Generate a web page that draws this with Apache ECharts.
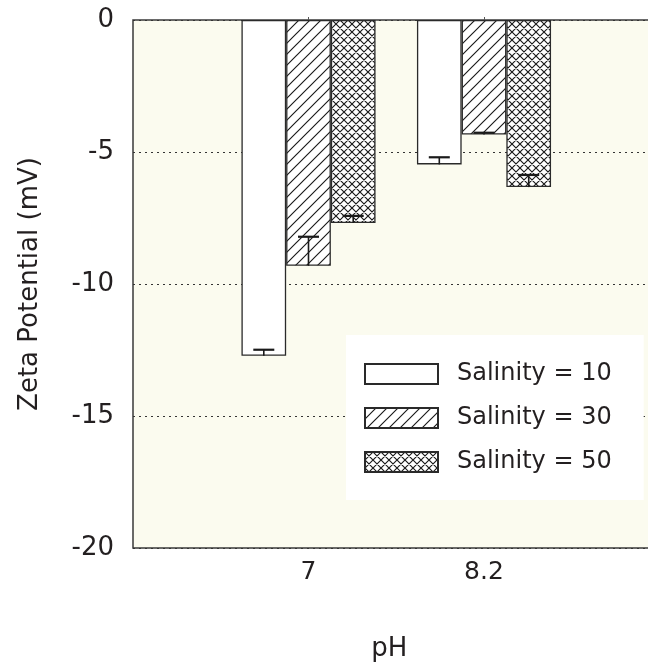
<!DOCTYPE html>
<html>
<head>
<meta charset="utf-8">
<script src="https://cdn.jsdelivr.net/npm/echarts@6/dist/echarts.min.js"></script>
<style>
html,body{margin:0;padding:0;background:#fff;}
#chart{width:648px;height:662px;}
</style>
</head>
<body>
<div id="chart"></div>
<script>
// ---- data ----
const phLabels = ['7', '8.2'];
const seriesNames = ['Salinity = 10', 'Salinity = 30', 'Salinity = 50'];
const sal10 = [-12.72, -5.47];
const sal30 = [-9.31, -4.34];
const sal50 = [-7.69, -6.33];
const err10 = [0.23, 0.27];
const err30 = [1.10, 0.07];
const err50 = [0.27, 0.46];
const yTicks = [0, -5, -10, -15, -20];

// padded categories (empty slots at both ends)
const categories = [''].concat(phLabels, ['']);
function pad(arr) { return ['-'].concat(arr, ['-']); }

const FONT = 'DejaVu Sans';
const TXT = '#231f20';
const BAR_W = 44.7;

function makePattern(size, cross) {
  const c = document.createElement('canvas');
  c.width = size; c.height = size;
  const g = c.getContext('2d');
  g.fillStyle = '#ffffff';
  g.fillRect(0, 0, size, size);
  g.strokeStyle = '#1a1a1a';
  g.lineWidth = 1.15;
  g.beginPath();
  // "/" lines
  g.moveTo(-size, size); g.lineTo(size, -size);
  g.moveTo(0, size); g.lineTo(size, 0);
  g.moveTo(0, 2 * size); g.lineTo(2 * size, 0);
  if (cross) {
    g.moveTo(-size, 0); g.lineTo(size, 2 * size);
    g.moveTo(0, 0); g.lineTo(size, size);
    g.moveTo(0, -size); g.lineTo(2 * size, size);
  }
  g.stroke();
  return c;
}

const fills = [
  '#ffffff',
  { image: makePattern(11, false), repeat: 'repeat' },
  { image: makePattern(8, true), repeat: 'repeat' }
];
const values = [sal10, sal30, sal50];
const errs = [err10, err30, err50];

const barSeries = values.map((v, i) => ({
  name: seriesNames[i],
  type: 'bar',
  data: pad(v),
  barWidth: BAR_W,
  barGap: '0%',
  itemStyle: { color: fills[i], borderColor: '#2a2a2a', borderWidth: 1.3 },
  emphasis: { disabled: true },
  z: 2
}));

const errSeries = values.map((v, i) => ({
  type: 'custom',
  silent: true,
  z: 5,
  data: v.map((val, k) => [k + 1, val, val + errs[i][k]]),
  renderItem: function (params, api) {
    const bottom = api.coord([api.value(0), api.value(1)]);
    const top = api.coord([api.value(0), api.value(2)]);
    const x = bottom[0] + (i - 1) * BAR_W;
    return {
      type: 'group',
      children: [
        { type: 'line', shape: { x1: x, y1: bottom[1], x2: x, y2: top[1] },
          style: { stroke: '#1a1a1a', lineWidth: 1.6 } },
        { type: 'line', shape: { x1: x - 10.5, y1: top[1], x2: x + 10.5, y2: top[1] },
          style: { stroke: '#1a1a1a', lineWidth: 2.2 } }
      ]
    };
  }
}));

const chart = echarts.init(document.getElementById('chart'));
chart.setOption({
  animation: false,
  backgroundColor: '#ffffff',
  textStyle: { fontFamily: FONT, color: TXT },
  grid: {
    left: 133, top: 20, width: 526.5, height: 528,
    containLabel: false,
    outerBoundsMode: 'none',
    show: true, backgroundColor: '#fbfbef', borderColor: '#3a3a3a', borderWidth: 1.5
  },
  legend: {
    data: seriesNames,
    orient: 'vertical',
    left: 346, top: 335,
    backgroundColor: '#ffffff',
    padding: [27, 32, 26, 18],
    icon: 'rect',
    itemWidth: 73, itemHeight: 20, itemGap: 20,
    selectedMode: false,
    textStyle: { fontFamily: FONT, fontSize: 24, color: TXT, lineHeight: 20, padding: [0, 0, 0, 14] }
  },
  xAxis: {
    type: 'category',
    data: categories,
    boundaryGap: false,
    name: 'pH',
    nameLocation: 'middle',
    nameGap: 88,
    nameTextStyle: { fontFamily: FONT, fontSize: 26, color: TXT, padding: [0, 14, 0, 0] },
    axisLine: { show: false },
    axisTick: { show: true, inside: true, length: 3, lineStyle: { color: '#555' },
      interval: function (idx, val) { return val !== ''; } },
    axisLabel: { fontFamily: FONT, fontSize: 25, color: TXT, margin: 12,
      interval: function (idx, val) { return val !== ''; } },
    splitLine: { show: false }
  },
  yAxis: {
    type: 'value',
    min: yTicks[yTicks.length - 1], max: yTicks[0], interval: 5,
    name: 'Zeta Potential (mV)',
    nameLocation: 'middle',
    nameGap: 90,
    nameRotate: 90,
    nameTextStyle: { fontFamily: FONT, fontSize: 26, color: TXT },
    axisLine: { show: false },
    axisTick: { show: false },
    axisLabel: { fontFamily: FONT, fontSize: 26, color: TXT, margin: 19 },
    splitLine: { show: true, lineStyle: { color: '#333', type: [2, 4], width: 1 } }
  },
  series: barSeries.concat(errSeries)
});
</script>
</body>
</html>
